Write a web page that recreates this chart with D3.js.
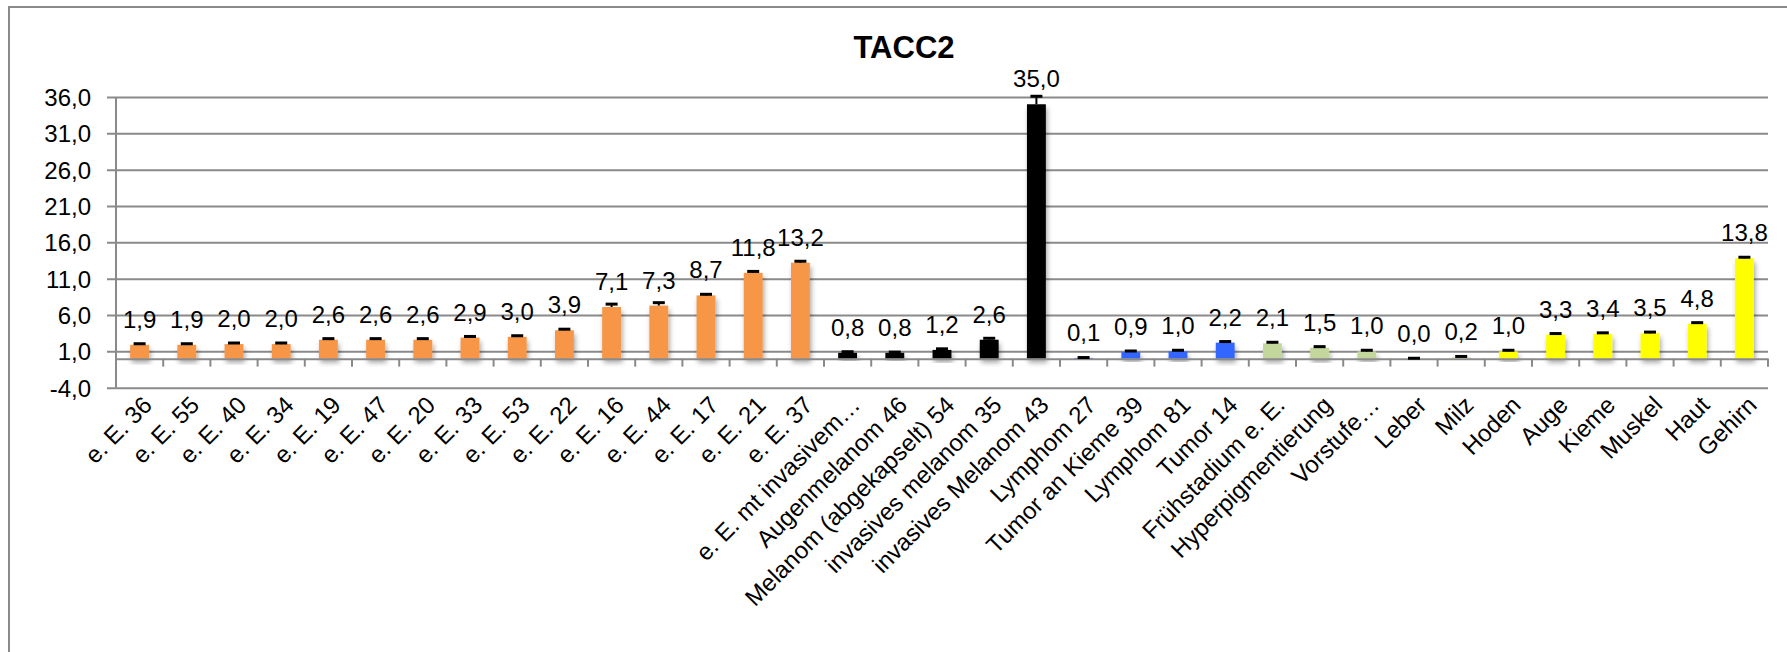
<!DOCTYPE html>
<html>
<head>
<meta charset="utf-8">
<script src="https://cdn.jsdelivr.net/npm/d3@7"></script>
<style>
  html, body { margin: 0; padding: 0; background: #fff; }
  svg { display: block; }
  text { font-family: "Liberation Sans", Arial, sans-serif; fill: #000; }
</style>
</head>
<body>
<svg id="chart" width="1787" height="652"></svg>
<script>
// ---- data ----
const categories = [
  "e. E. 36", "e. E. 55", "e. E. 40", "e. E. 34", "e. E. 19", "e. E. 47", "e. E. 20",
  "e. E. 33", "e. E. 53", "e. E. 22", "e. E. 16", "e. E. 44", "e. E. 17", "e. E. 21", "e. E. 37",
  "e. E. mt invasivem…", "Augenmelanom 46", "Melanom (abgekapselt) 54", "invasives melanom 35",
  "invasives Melanom 43", "Lymphom 27", "Tumor an Kieme 39", "Lymphom 81", "Tumor 14",
  "Frühstadium e. E.", "Hyperpigmentierung", "Vorstufe…", "Leber", "Milz",
  "Hoden", "Auge", "Kieme", "Muskel", "Haut", "Gehirn"
];
const values = [
  1.9, 1.9, 2.0, 2.0, 2.6, 2.6, 2.6, 2.9, 3.0, 3.9, 7.1, 7.3, 8.7, 11.8, 13.2,
  0.8, 0.8, 1.2, 2.6, 35.0,
  0.1, 0.9, 1.0, 2.2,
  2.1, 1.5, 1.0,
  0.0, 0.2,
  1.0, 3.3, 3.4, 3.5, 4.8, 13.8
];
const errors = [
  0.15, 0.15, 0.15, 0.15, 0.15, 0.15, 0.15, 0.15, 0.15, 0.15, 0.4, 0.4, 0.15, 0.2, 0.2,
  0.15, 0.1, 0.15, 0.2, 1.1,
  0.05, 0.15, 0.15, 0.15,
  0.15, 0.15, 0.15,
  0.05, 0.1,
  0.15, 0.15, 0.15, 0.15, 0.15, 0.15
];
const groups = [
  "eE","eE","eE","eE","eE","eE","eE","eE","eE","eE","eE","eE","eE","eE","eE",
  "mel","mel","mel","mel","mel",
  "lym","lym","lym","lym",
  "pre","pre","pre",
  "org","org",
  "tis","tis","tis","tis","tis","tis"
];
const yTicks = [-4, 1, 6, 11, 16, 21, 26, 31, 36];
const title = "TACC2";

// ---- layout ----
const svg = d3.select("#chart");
const plot = { left: 116, right: 1768, top: 97, bottom: 387.7 };

const color = d3.scaleOrdinal()
  .domain(["eE", "mel", "lym", "pre", "org", "tis"])
  .range(["#F79646", "#000000", "#3366FF", "#C3D69B", "#D7E4BD", "#FFFF00"]);

const x = d3.scaleBand().domain(categories).range([plot.left, plot.right]).paddingInner(0.6).paddingOuter(0.3);
const y = d3.scaleLinear().domain([-4, 36]).range([plot.bottom, plot.top]);
const fmt = v => d3.format(".1f")(v).replace(".", ",").replace("\u2212", "-");

// shadow filter
const defs = svg.append("defs");
const f = defs.append("filter").attr("id", "shadow").attr("x", "-50%").attr("y", "-20%").attr("width", "200%").attr("height", "160%");
f.append("feDropShadow").attr("dx", 1.5).attr("dy", 4).attr("stdDeviation", 2.5)
  .attr("flood-color", "#000").attr("flood-opacity", 0.35);

// frame
svg.append("rect").attr("x", 9).attr("y", 7).attr("width", 1800).attr("height", 700)
  .attr("fill", "#fff").attr("stroke", "#8a8a8a").attr("stroke-width", 2);

// title
svg.append("text").attr("x", 904).attr("y", 58).attr("text-anchor", "middle")
  .style("font-size", "31px").style("font-weight", "bold").text(title);

// y axis with gridlines
const yAxis = d3.axisLeft(y).tickValues(yTicks).tickFormat(fmt)
  .tickSize(-(plot.right - plot.left)).tickPadding(0);
const gy = svg.append("g").attr("transform", `translate(${plot.left},0)`).call(yAxis);
gy.select(".domain").remove();
gy.selectAll(".tick line").attr("stroke", "#8a8a8a").attr("stroke-width", 2).attr("x1", -9);
gy.selectAll(".tick text").attr("x", -25).style("font-size", "24px").attr("dy", "0.35em")
  .style("font-family", "'Liberation Sans', Arial, sans-serif");
svg.append("line").attr("x1", plot.left).attr("x2", plot.left).attr("y1", plot.top).attr("y2", plot.bottom)
  .attr("stroke", "#8a8a8a").attr("stroke-width", 2);

// bars
const step = x.step();
svg.append("g").selectAll("rect").data(categories).join("rect")
  .attr("x", (d) => x(d))
  .attr("width", x.bandwidth())
  .attr("y", (d, i) => y(Math.max(0, values[i])))
  .attr("height", (d, i) => Math.abs(y(values[i]) - y(0)))
  .attr("fill", (d, i) => color(groups[i]))
  .attr("filter", "url(#shadow)");

// x axis at 0
const xAxis = d3.axisBottom(x).tickSize(0).tickFormat("");
const gx = svg.append("g").attr("transform", `translate(0,${y(0)})`).call(xAxis);
gx.select(".domain").attr("stroke", "#8a8a8a").attr("stroke-width", 2);
const boundaries = d3.range(categories.length + 1).map(i => plot.left + i * step);
gx.selectAll("line.bt").data(boundaries).join("line").attr("class", "bt")
  .attr("x1", d => d).attr("x2", d => d).attr("y1", 0).attr("y2", 8)
  .attr("stroke", "#8a8a8a").attr("stroke-width", 2);

// error bars
const eg = svg.append("g");
categories.forEach((c, i) => {
  const cx = x(c) + x.bandwidth() / 2;
  const top = y(values[i] + errors[i]);
  eg.append("line").attr("x1", cx).attr("x2", cx).attr("y1", y(values[i])).attr("y2", top)
    .attr("stroke", "#000").attr("stroke-width", 2);
  eg.append("line").attr("x1", cx - 6).attr("x2", cx + 6).attr("y1", top).attr("y2", top)
    .attr("stroke", "#000").attr("stroke-width", 3);
});

// value labels
svg.append("g").selectAll("text").data(categories).join("text")
  .attr("x", d => x(d) + x.bandwidth() / 2)
  .attr("y", (d, i) => y(values[i]) - 17)
  .attr("text-anchor", "middle")
  .style("font-size", "24px")
  .text((d, i) => fmt(values[i]));

// category labels
svg.append("g").selectAll("text").data(categories).join("text")
  .attr("transform", d => `translate(${x(d) + x.bandwidth() / 2 + 2},${plot.bottom + 7}) rotate(-45)`)
  .attr("text-anchor", "end")
  .attr("dy", "0.7em")
  .style("font-size", "24px")
  .text(d => d);
</script>
</body>
</html>
